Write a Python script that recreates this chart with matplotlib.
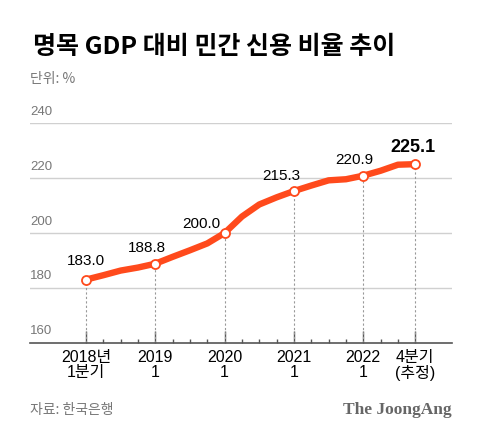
import matplotlib
matplotlib.use("Agg")
import matplotlib.pyplot as plt

plt.rcParams['font.family'] = ['Noto Sans CJK KR', 'DejaVu Sans']

# 2018 1분기 ~ 2022 4분기 (분기별)
quarters = list(range(20))
ratio = [183.0, 184.6, 186.3, 187.4, 188.8, 191.3, 193.7, 196.2, 200.0, 206.0,
         210.4, 213.0, 215.3, 217.3, 219.2, 219.6, 220.9, 222.7, 224.9, 225.1]

label_idx = [0, 4, 8, 12, 16, 19]
label_txt = ["183.0", "188.8", "200.0", "215.3", "220.9", "225.1"]
tick_labels = ["2018년\n1분기", "2019\n1", "2020\n1", "2021\n1", "2022\n1", "4분기\n(추정)"]
yticks = [160, 180, 200, 220, 240]

red = "#ff4a1c"

fig = plt.figure(figsize=(4.8, 4.38), dpi=100)
ax = fig.add_axes([0.0625, 0.2176, 0.8792, 0.5009])
ax.set_xlim(-3.23, 21.12)
ax.set_ylim(160, 240)

# gridlines
for v in yticks[1:]:
    ax.axhline(v, color="#d0d0d0", lw=1, zorder=1)
for v in yticks:
    ax.text(-3.23, v + 2.0, str(v), color="#777777", fontsize=9.5, va="bottom", ha="left",
            family=["Liberation Sans", "DejaVu Sans"])

# dotted drops from labelled points
for i in label_idx:
    ax.plot([i, i], [160, ratio[i]], color="#999999", lw=0.8, ls=(0, (2, 2)), zorder=2)

ax.plot(quarters, ratio, color=red, lw=4.6, solid_capstyle="round", zorder=3)
ax.plot([quarters[i] for i in label_idx], [ratio[i] for i in label_idx], "o",
        ms=6.5, mfc="white", mec=red, mew=1.3, zorder=4)

offsets = [(0, 19), (-8, 16), (-23, 9), (-13, 15), (-9, 16), (-2, 17)]
for k, i in enumerate(label_idx):
    last = k == len(label_idx) - 1
    ax.annotate(label_txt[k], (quarters[i], ratio[i]), xytext=offsets[k],
                textcoords="offset pixels", ha="center", va="center",
                fontsize=13 if last else 11,
                fontweight="bold" if last else "normal",
                family=["Liberation Sans", "DejaVu Sans"], color="black", zorder=5)

for s in ["top", "right", "left"]:
    ax.spines[s].set_visible(False)
ax.spines["bottom"].set_color("#555555")
ax.spines["bottom"].set_linewidth(1.2)
ax.set_yticks([])
ax.set_xticks(label_idx)
ax.set_xticklabels([])
ax.set_xticks(quarters, minor=True)
ax.tick_params(axis="x", which="major", direction="in", length=9, width=1, color="#555555")
ax.tick_params(axis="x", which="minor", direction="in", length=3.2, width=1, color="#555555")

for k, i in enumerate(label_idx):
    ax.annotate(tick_labels[k], (quarters[i], 160), xytext=(0, -7),
                textcoords="offset pixels", ha="center", va="top",
                fontsize=11.5, linespacing=1.0, color="black",
                family=["Liberation Sans", "Noto Sans CJK KR"], annotation_clip=False)

fig.text(33 / 480, 1 - 47 / 438, "명목 GDP 대비 민간 신용 비율 추이", fontsize=18,
         fontweight="heavy", va="center", ha="left")
fig.text(30 / 480, 1 - 79 / 438, "단위: %", fontsize=10, color="#777777", va="center", ha="left")
fig.text(30 / 480, 1 - 410 / 438, "자료: 한국은행", fontsize=10, color="#777777", va="center", ha="left")
fig.text(452 / 480, 1 - 410 / 438, "The JoongAng", fontsize=12.5, color="#666666",
         fontweight="bold", family="Liberation Serif", va="center", ha="right")

fig.savefig("out.png", dpi=100)
